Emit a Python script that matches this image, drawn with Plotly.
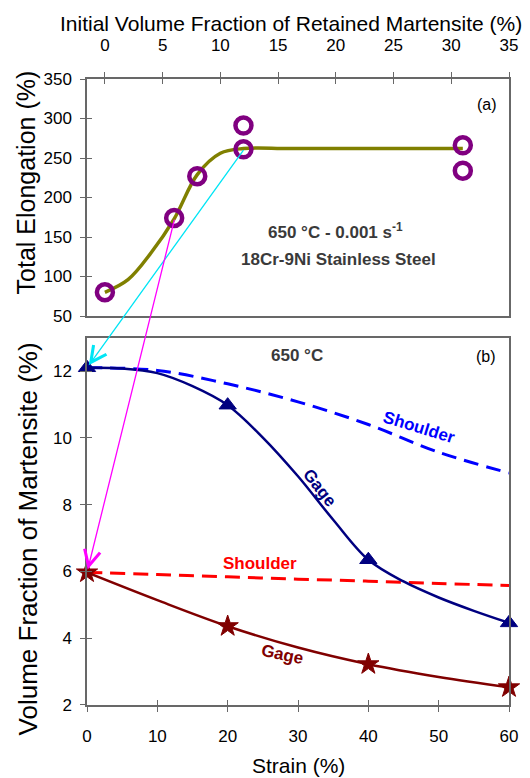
import subprocess
import plotly.graph_objects as go

# ---------------- data: panel (a) ----------------
vf_meas = [0, 6, 8, 12, 12, 31, 31]
te_meas = [80, 174, 227, 291, 261, 266, 234]
vf_fit = [0, 2, 4, 6, 8, 10, 12, 16, 24, 31]
te_fit = [80, 96, 130, 173, 229, 256, 262, 262, 262, 262]
vf_ticks = [0, 5, 10, 15, 20, 25, 30, 35]
te_ticks = [50, 100, 150, 200, 250, 300, 350]

# ---------------- data: panel (b) ----------------
strain = [0, 20, 40, 60]
gage12 = [12.1, 10.98, 6.35, 4.46]
gage6 = [5.97, 4.36, 3.22, 2.53]
strain_fit13 = [0, 5, 10, 15, 20, 25, 30, 35, 40, 45, 50, 55, 60]
gage12_fit = [12.1, 12.08, 11.94, 11.55, 10.98, 10.01, 8.85, 7.55, 6.35, 5.70, 5.22, 4.82, 4.46]
strain_fit7 = [0, 10, 20, 30, 40, 50, 60]
shoulder12_fit = [12.1, 12.02, 11.62, 11.08, 10.4, 9.57, 8.95]
gage6_fit = [5.97, 5.14, 4.36, 3.72, 3.22, 2.84, 2.53]
shoulder6_fit = [5.97, 5.91, 5.84, 5.77, 5.71, 5.64, 5.58]
strain_ticks = [0, 10, 20, 30, 40, 50, 60]
vf_b_ticks = [2, 4, 6, 8, 10, 12]

# ---------------- fonts ----------------
def has_font(name):
    try:
        out = subprocess.run(["fc-list", ":", "family"], capture_output=True, text=True).stdout
        return name in out
    except Exception:
        return False

NARROW = has_font("Liberation Sans Narrow")
if NARROW:
    NF = "Liberation Sans Narrow"
    K = 1.0
else:
    NF = "Liberation Sans, Arial"
    K = 0.87
REG = "Liberation Sans, Arial"

# ---------------- geometry ----------------
FW, FH = 530, 778
ML, MR, MT, MB = 87, 18, 79, 73
PW, PH = FW - ML - MR, FH - MT - MB
DOM_A = [0.6214, 1.0]
DOM_B = [0.0, 0.5867]
XR_A = [-1.55, 35]
YR_A = [50, 350]
XR_B = [0, 60]
YR_B = [2, 13]

AX = "#686868"


def sx(v, rng):
    return ML + (v - rng[0]) / (rng[1] - rng[0]) * PW


def sy(v, rng, dom):
    f = dom[0] + (v - rng[0]) / (rng[1] - rng[0]) * (dom[1] - dom[0])
    return MT + PH - f * PH


def px(x):
    return (x - ML) / PW


def py(y):
    return (MT + PH - y) / PH


fig = go.Figure()

# panel (a)
fig.add_trace(go.Scatter(x=vf_fit, y=te_fit, xaxis="x2", yaxis="y2", mode="lines",
                         line=dict(color="#808000", width=3.5, shape="spline", smoothing=1.0),
                         showlegend=False, hoverinfo="skip"))
fig.add_trace(go.Scatter(x=vf_meas, y=te_meas, xaxis="x2", yaxis="y2", mode="markers",
                         cliponaxis=False,
                         marker=dict(symbol="circle-open", size=16, color="#800080",
                                     line=dict(color="#800080", width=4.5)),
                         showlegend=False))

# panel (b)
fig.add_trace(go.Scatter(x=strain_fit7, y=shoulder12_fit, mode="lines",
                         line=dict(color="#0000ff", width=3, dash="15px,8px", shape="spline"),
                         showlegend=False, hoverinfo="skip"))
fig.add_trace(go.Scatter(x=strain_fit7, y=shoulder6_fit, mode="lines",
                         line=dict(color="#ff0000", width=3, dash="15px,8px", shape="spline"),
                         showlegend=False, hoverinfo="skip"))
fig.add_trace(go.Scatter(x=strain_fit13, y=gage12_fit, mode="lines",
                         line=dict(color="#000080", width=2.5, shape="spline"),
                         showlegend=False, hoverinfo="skip"))
fig.add_trace(go.Scatter(x=strain_fit7, y=gage6_fit, mode="lines",
                         line=dict(color="#800000", width=2.5, shape="spline"),
                         showlegend=False, hoverinfo="skip"))
fig.add_trace(go.Scatter(x=strain, y=gage12, mode="markers", cliponaxis=False,
                         marker=dict(symbol="triangle-up", size=15, color="#000080",
                                     line=dict(color="#000080", width=1)),
                         showlegend=False))
fig.add_trace(go.Scatter(x=strain, y=gage6, mode="markers", cliponaxis=False,
                         marker=dict(symbol="star", size=16, color="#800000",
                                     line=dict(color="#800000", width=1)),
                         showlegend=False))

# dummy traces for overlay tick axes
fig.add_trace(go.Scatter(x=[], y=[], xaxis="x3", yaxis="y", showlegend=False, hoverinfo="skip"))
fig.add_trace(go.Scatter(x=[], y=[], xaxis="x", yaxis="y3", showlegend=False, hoverinfo="skip"))
fig.add_trace(go.Scatter(x=[], y=[], xaxis="x4", yaxis="y2", showlegend=False, hoverinfo="skip"))
fig.add_trace(go.Scatter(x=[], y=[], xaxis="x2", yaxis="y4", showlegend=False, hoverinfo="skip"))

tickfont = dict(family=NF, size=round(19.5 * K), color="black")
common = dict(showline=True, linecolor=AX, linewidth=1.5, mirror=True, showgrid=False,
              zeroline=False, ticks="outside", ticklen=5, tickwidth=1.3, tickcolor=AX,
              tickfont=tickfont)
inner = dict(showline=False, showgrid=False, zeroline=False, ticks="inside", ticklen=5,
             tickwidth=1.3, tickcolor=AX, showticklabels=False)

fig.update_layout(
    width=FW, height=FH,
    margin=dict(l=ML, r=MR, t=MT, b=MB, pad=0),
    paper_bgcolor="white", plot_bgcolor="white",
    showlegend=False,
    xaxis=dict(domain=[0, 1], anchor="y", range=XR_B, tickvals=strain_ticks,
               ticklabelstandoff=10, **common),
    yaxis=dict(domain=DOM_B, anchor="x", range=YR_B, tickvals=vf_b_ticks,
               ticklabelstandoff=5, **common),
    xaxis2=dict(domain=[0, 1], anchor="y2", side="top", range=XR_A, tickvals=vf_ticks,
                ticklabelstandoff=14, **common),
    yaxis2=dict(domain=DOM_A, anchor="x2", range=YR_A, tickvals=te_ticks,
                ticklabelstandoff=5, **common),
    xaxis3=dict(overlaying="x", anchor="y", range=XR_B, tickvals=strain_ticks, **inner),
    yaxis3=dict(overlaying="y", anchor="x", range=YR_B, tickvals=vf_b_ticks, **inner),
    xaxis4=dict(overlaying="x2", anchor="y2", side="top", range=XR_A, tickvals=vf_ticks, **inner),
    yaxis4=dict(overlaying="y2", anchor="x2", range=YR_A, tickvals=te_ticks, **inner),
)

ann = []
# titles
ann.append(dict(text="Initial Volume Fraction of Retained Martensite (%)", x=px(292), y=py(24),
                xref="paper", yref="paper", showarrow=False, xanchor="center", yanchor="middle",
                font=dict(family=REG, size=21, color="black")))
ann.append(dict(text="Strain (%)", x=px(300), y=py(765), xref="paper", yref="paper",
                showarrow=False, xanchor="center", yanchor="middle",
                font=dict(family=REG, size=21, color="black")))
ann.append(dict(text="Total Elongation (%)", x=px(26), y=py(182), xref="paper", yref="paper",
                showarrow=False, textangle=-90, xanchor="center", yanchor="middle",
                font=dict(family=REG, size=25, color="black")))
ann.append(dict(text="Volume Fraction of Martensite (%)", x=px(28), y=py(539), xref="paper",
                yref="paper", showarrow=False, textangle=-90, xanchor="center", yanchor="middle",
                font=dict(family=REG, size=26, color="black")))
# panel labels
ann.append(dict(text="(a)", x=px(502), y=py(94), xref="paper", yref="paper", showarrow=False,
                font=dict(family=NF, size=round(18 * K), color="black")))
ann.append(dict(text="(b)", x=px(501), y=py(356), xref="paper", yref="paper", showarrow=False,
                font=dict(family=NF, size=round(18 * K), color="black")))
# panel text
bold = lambda s, c: dict(family=NF, size=round(s * K), color=c)
ann.append(dict(text="<b>650 °C - 0.001 s<sup>-1</sup></b>", x=20, y=157, xref="x2", yref="y2",
                showarrow=False, font=bold(19.5, "#3a3a3a")))
ann.append(dict(text="<b>18Cr-9Ni Stainless Steel</b>", x=20.2, y=122, xref="x2", yref="y2",
                showarrow=False, font=bold(19.5, "#3a3a3a")))
ann.append(dict(text="<b>650 °C</b>", x=29.9, y=12.48, xref="x", yref="y", showarrow=False,
                font=bold(19.5, "#3a3a3a")))
ann.append(dict(text="<b>Shoulder</b>", x=47.2, y=10.3, xref="x", yref="y", showarrow=False,
                textangle=17, font=bold(20, "#0000ff")))
ann.append(dict(text="<b>Gage</b>", x=33.0, y=8.5, xref="x", yref="y", showarrow=False,
                textangle=52, font=bold(20, "#000080")))
ann.append(dict(text="<b>Shoulder</b>", x=24.6, y=6.24, xref="x", yref="y", showarrow=False,
                font=bold(20, "#ff0000")))
ann.append(dict(text="<b>Gage</b>", x=27.8, y=3.5, xref="x", yref="y", showarrow=False,
                textangle=12, font=bold(20, "#800000")))

# connecting arrows (from panel a points to panel b initial values)
arrows = [
    (vf_fit[6], te_fit[6], strain[0], gage12[0], "#00e5f5"),
    (vf_meas[1], te_meas[1], strain[0], gage6[0], "#ff00ff"),
]
for tx_v, ty_v, hx_v, hy_v, col in arrows:
    tx, ty = sx(tx_v, XR_A), sy(ty_v, YR_A, DOM_A)
    hx, hy = sx(hx_v, XR_B), sy(hy_v, YR_B, DOM_B)
    ann.append(dict(text="", x=hx_v, y=hy_v, xref="x", yref="y", ax=tx - hx, ay=ty - hy,
                    axref="pixel", ayref="pixel", showarrow=True, arrowhead=5, arrowsize=2.4,
                    arrowwidth=1.3, arrowcolor=col, standoff=3))

fig.update_layout(annotations=ann)
fig.write_html("out.html")
